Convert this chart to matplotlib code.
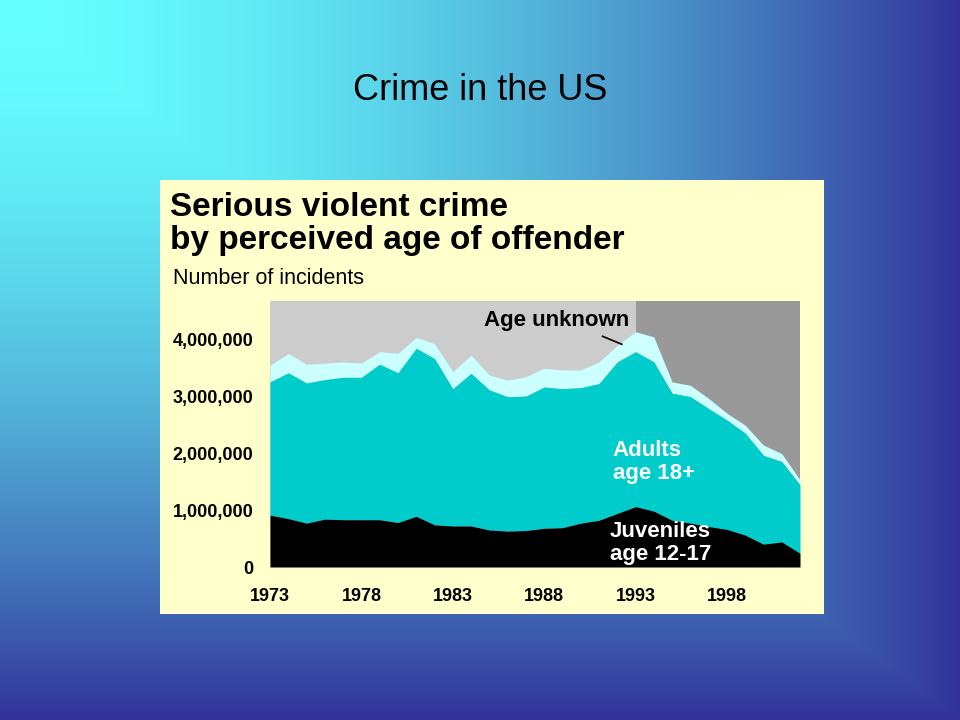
import numpy as np
import matplotlib
matplotlib.use("Agg")
import matplotlib.pyplot as plt
from matplotlib.colors import to_rgb
from matplotlib.patches import Rectangle

plt.rcParams['font.family'] = ['Liberation Sans', 'DejaVu Sans']

years = np.arange(1973, 2003)
juveniles = [0.91, 0.85, 0.77, 0.84, 0.83, 0.83, 0.83, 0.78, 0.89, 0.74,
             0.72, 0.72, 0.65, 0.63, 0.64, 0.68, 0.69, 0.77, 0.82, 0.94,
             1.06, 0.98, 0.82, 0.77, 0.71, 0.66, 0.56, 0.40, 0.44, 0.24]
# cumulative tops (juveniles + adults)
adults_top = [3.25, 3.41, 3.23, 3.29, 3.33, 3.33, 3.56, 3.41, 3.84, 3.66,
              3.13, 3.40, 3.11, 2.99, 3.00, 3.16, 3.13, 3.15, 3.22, 3.60,
              3.78, 3.60, 3.05, 2.99, 2.78, 2.58, 2.35, 1.96, 1.85, 1.44]
# cumulative tops (all ages incl. unknown)
total_top = [3.54, 3.75, 3.56, 3.58, 3.60, 3.58, 3.78, 3.75, 4.03, 3.92,
             3.43, 3.72, 3.37, 3.28, 3.34, 3.49, 3.46, 3.46, 3.60, 3.89,
             4.13, 4.04, 3.25, 3.19, 2.96, 2.70, 2.49, 2.14, 1.99, 1.53]
yticks = [0, 1000000, 2000000, 3000000, 4000000]
xticks = [1973, 1978, 1983, 1988, 1993, 1998]

juv = np.array(juveniles) * 1e6
adl = np.array(adults_top) * 1e6
tot = np.array(total_top) * 1e6

W, H = 960, 720
fig = plt.figure(figsize=(9.6, 7.2), dpi=100)

# slide background: corner gradient from top-left
bg = fig.add_axes([0, 0, 1, 1])
xx, yy = np.meshgrid(np.linspace(0, 1, 480), np.linspace(0, 1, 360))
t = np.maximum(xx, yy) ** 1.7
c0 = np.array(to_rgb('#66ffff'))
c1 = np.array(to_rgb('#333399'))
img = c0[None, None, :] * (1 - t[..., None]) + c1[None, None, :] * t[..., None]
bg.imshow(img, aspect='auto', extent=[0, 1, 1, 0])
bg.set_xlim(0, 1)
bg.set_ylim(1, 0)
bg.axis('off')

fig.text(0.5, 1 - 91 / H, 'Crime in the US', ha='center', va='center',
         fontsize=26, color='black')

# yellow panel
fig.patches.append(Rectangle((160 / W, 1 - 614 / H), 664 / W, 434 / H,
                             transform=fig.transFigure, facecolor='#ffffcc',
                             edgecolor='none', zorder=1))
fig.text(170 / W, 1 - 207 / H, 'Serious violent crime', ha='left', va='center',
         fontsize=24, fontweight='bold', zorder=3)
fig.text(170 / W, 1 - 241 / H, 'by perceived age of offender', ha='left',
         va='center', fontsize=24, fontweight='bold', zorder=3)
fig.text(173 / W, 1 - 278 / H, 'Number of incidents', ha='left', va='center',
         fontsize=15.5, zorder=3)

ax = fig.add_axes([270 / W, 1 - 567 / H, 530 / W, 266 / H], zorder=4)
ax.axvspan(1973, 1993, color='#cccccc', lw=0)
ax.axvspan(1993, 2002, color='#999999', lw=0)
ax.fill_between(years, adl, tot, color='#ccffff', lw=0)
ax.fill_between(years, juv, adl, color='#00cccc', lw=0)
ax.fill_between(years, 0, juv, color='black', lw=0)
ax.set_xlim(1973, 2002)
ax.set_ylim(0, 4.67e6)
ax.set_yticks(yticks)
ax.set_yticklabels(['{:,}'.format(v) for v in yticks], fontweight='bold', fontsize=13)
ax.set_xticks(xticks)
ax.set_xticklabels([str(v) for v in xticks], fontweight='bold', fontsize=13)
ax.tick_params(length=0)
ax.tick_params(axis='y', pad=12)
ax.tick_params(axis='x', pad=15)
for s in ax.spines.values():
    s.set_visible(False)

ax.text(1988.7, 4.33e6, 'Age unknown', ha='center', va='center',
        fontsize=16, fontweight='bold')
ax.plot([1991.2, 1992.25], [4.05e6, 3.91e6], color='black', lw=1.2)
ax.text(1991.76, 1.84e6, 'Adults\nage 18+', ha='left', va='center',
        fontsize=16, fontweight='bold', color='white', linespacing=1.1)
ax.text(1991.6, 0.42e6, 'Juveniles\nage 12-17', ha='left', va='center',
        fontsize=16, fontweight='bold', color='white', linespacing=1.1)

fig.savefig('out.png', dpi=100)
